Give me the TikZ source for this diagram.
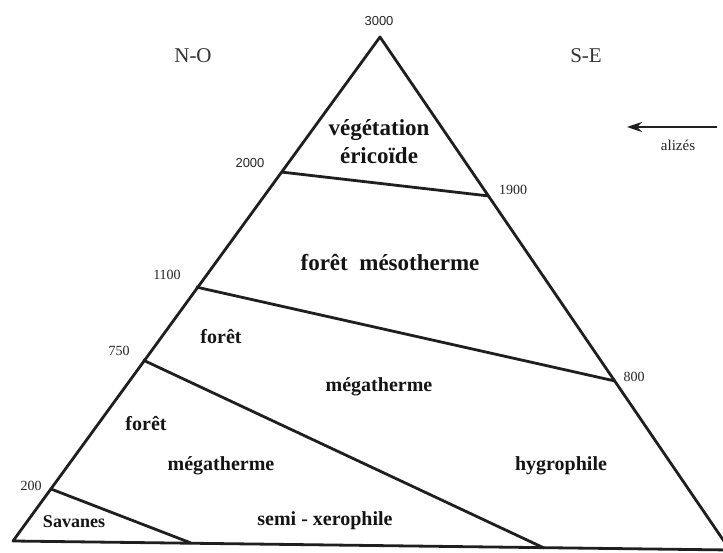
\documentclass[tikz,border=0pt]{standalone}
\usepackage{fontspec}
\setmainfont{Liberation Serif}
\newfontfamily\altsans{Liberation Sans}
\usetikzlibrary{arrows.meta}
\begin{document}
\begin{tikzpicture}[
  x=1pt, y=-1pt,
  limit/.style={draw=black!88, line width=2.8pt, line join=round},
  zone/.style={font=\bfseries\fontsize{23}{26}\selectfont, align=center, text=black!92},
  subzone/.style={font=\bfseries\fontsize{20}{23}\selectfont, text=black!92},
  alt/.style={font=\fontsize{14}{16}\selectfont, text=black!85},
  side/.style={font=\fontsize{21}{24}\selectfont, text=black!80},
]
\useasboundingbox (0,0) rectangle (723,553);
% sommet et base du triangle
\coordinate (top) at (380,37);
\coordinate (bl) at (13,541);
\coordinate (br) at (730,550);
% limites sur les deux versants
\coordinate (no2000) at (281,172);
\coordinate (se1900) at (489,196);
\coordinate (no1100) at (196,287);
\coordinate (se800) at (615,381);
\coordinate (no750) at (143,360);
\coordinate (b750) at (544,548);
\coordinate (no200) at (51,489);
\coordinate (b200) at (191,543);
\draw[limit] (top) -- (br) -- (bl) -- cycle;
\draw[limit] (no2000) -- (se1900);
\draw[limit] (no1100) -- (se800);
\draw[limit] (no750) -- (b750);
\draw[limit] (no200) -- (b200);
% altitudes
\node[alt, font=\altsans\fontsize{13}{15}\selectfont] (a3000) at (379,21) {3000};
\node[alt, font=\altsans\fontsize{13}{15}\selectfont] (a2000) at (250,163) {2000};
\node[alt] (a1900) at (513,190) {1900};
\node[alt] (a1100) at (167,275) {1100};
\node[alt] (a750) at (119,351) {750};
\node[alt] (a800) at (634,377) {800};
\node[alt] (a200) at (31,486) {200};
% orientation
\node[side] (no) at (193,56) {N-O};
\node[side] (se) at (586,56) {S-E};
\coordinate (wtail) at (717,127);
\coordinate (whead) at (627,127);
\draw[-{Stealth[length=15pt,width=10pt]}, line width=1.5pt, black!88] (wtail) -- (whead);
\node[alt, font=\fontsize{15}{17}\selectfont] (alizes) at (678,145) {alizés};
% etages de vegetation
\node[zone] (ericoide) at (379,142) {végétation\\[2pt]éricoïde};
\node[zone] (mesotherme) at (390,263) {forêt\ \ mésotherme};
\node[subzone] (foret1) at (221,337) {forêt};
\node[subzone] (mega1) at (379,387) {mégatherme};
\node[subzone] (foret2) at (146,424) {forêt};
\node[subzone] (mega2) at (221,466) {mégatherme};
\node[subzone] (hygro) at (561,466) {hygrophile};
\node[subzone, font=\bfseries\fontsize{18}{21}\selectfont] (savanes) at (74,522) {Savanes};
\node[subzone] (xero) at (325,521) {semi - xerophile};
\end{tikzpicture}
\end{document}
